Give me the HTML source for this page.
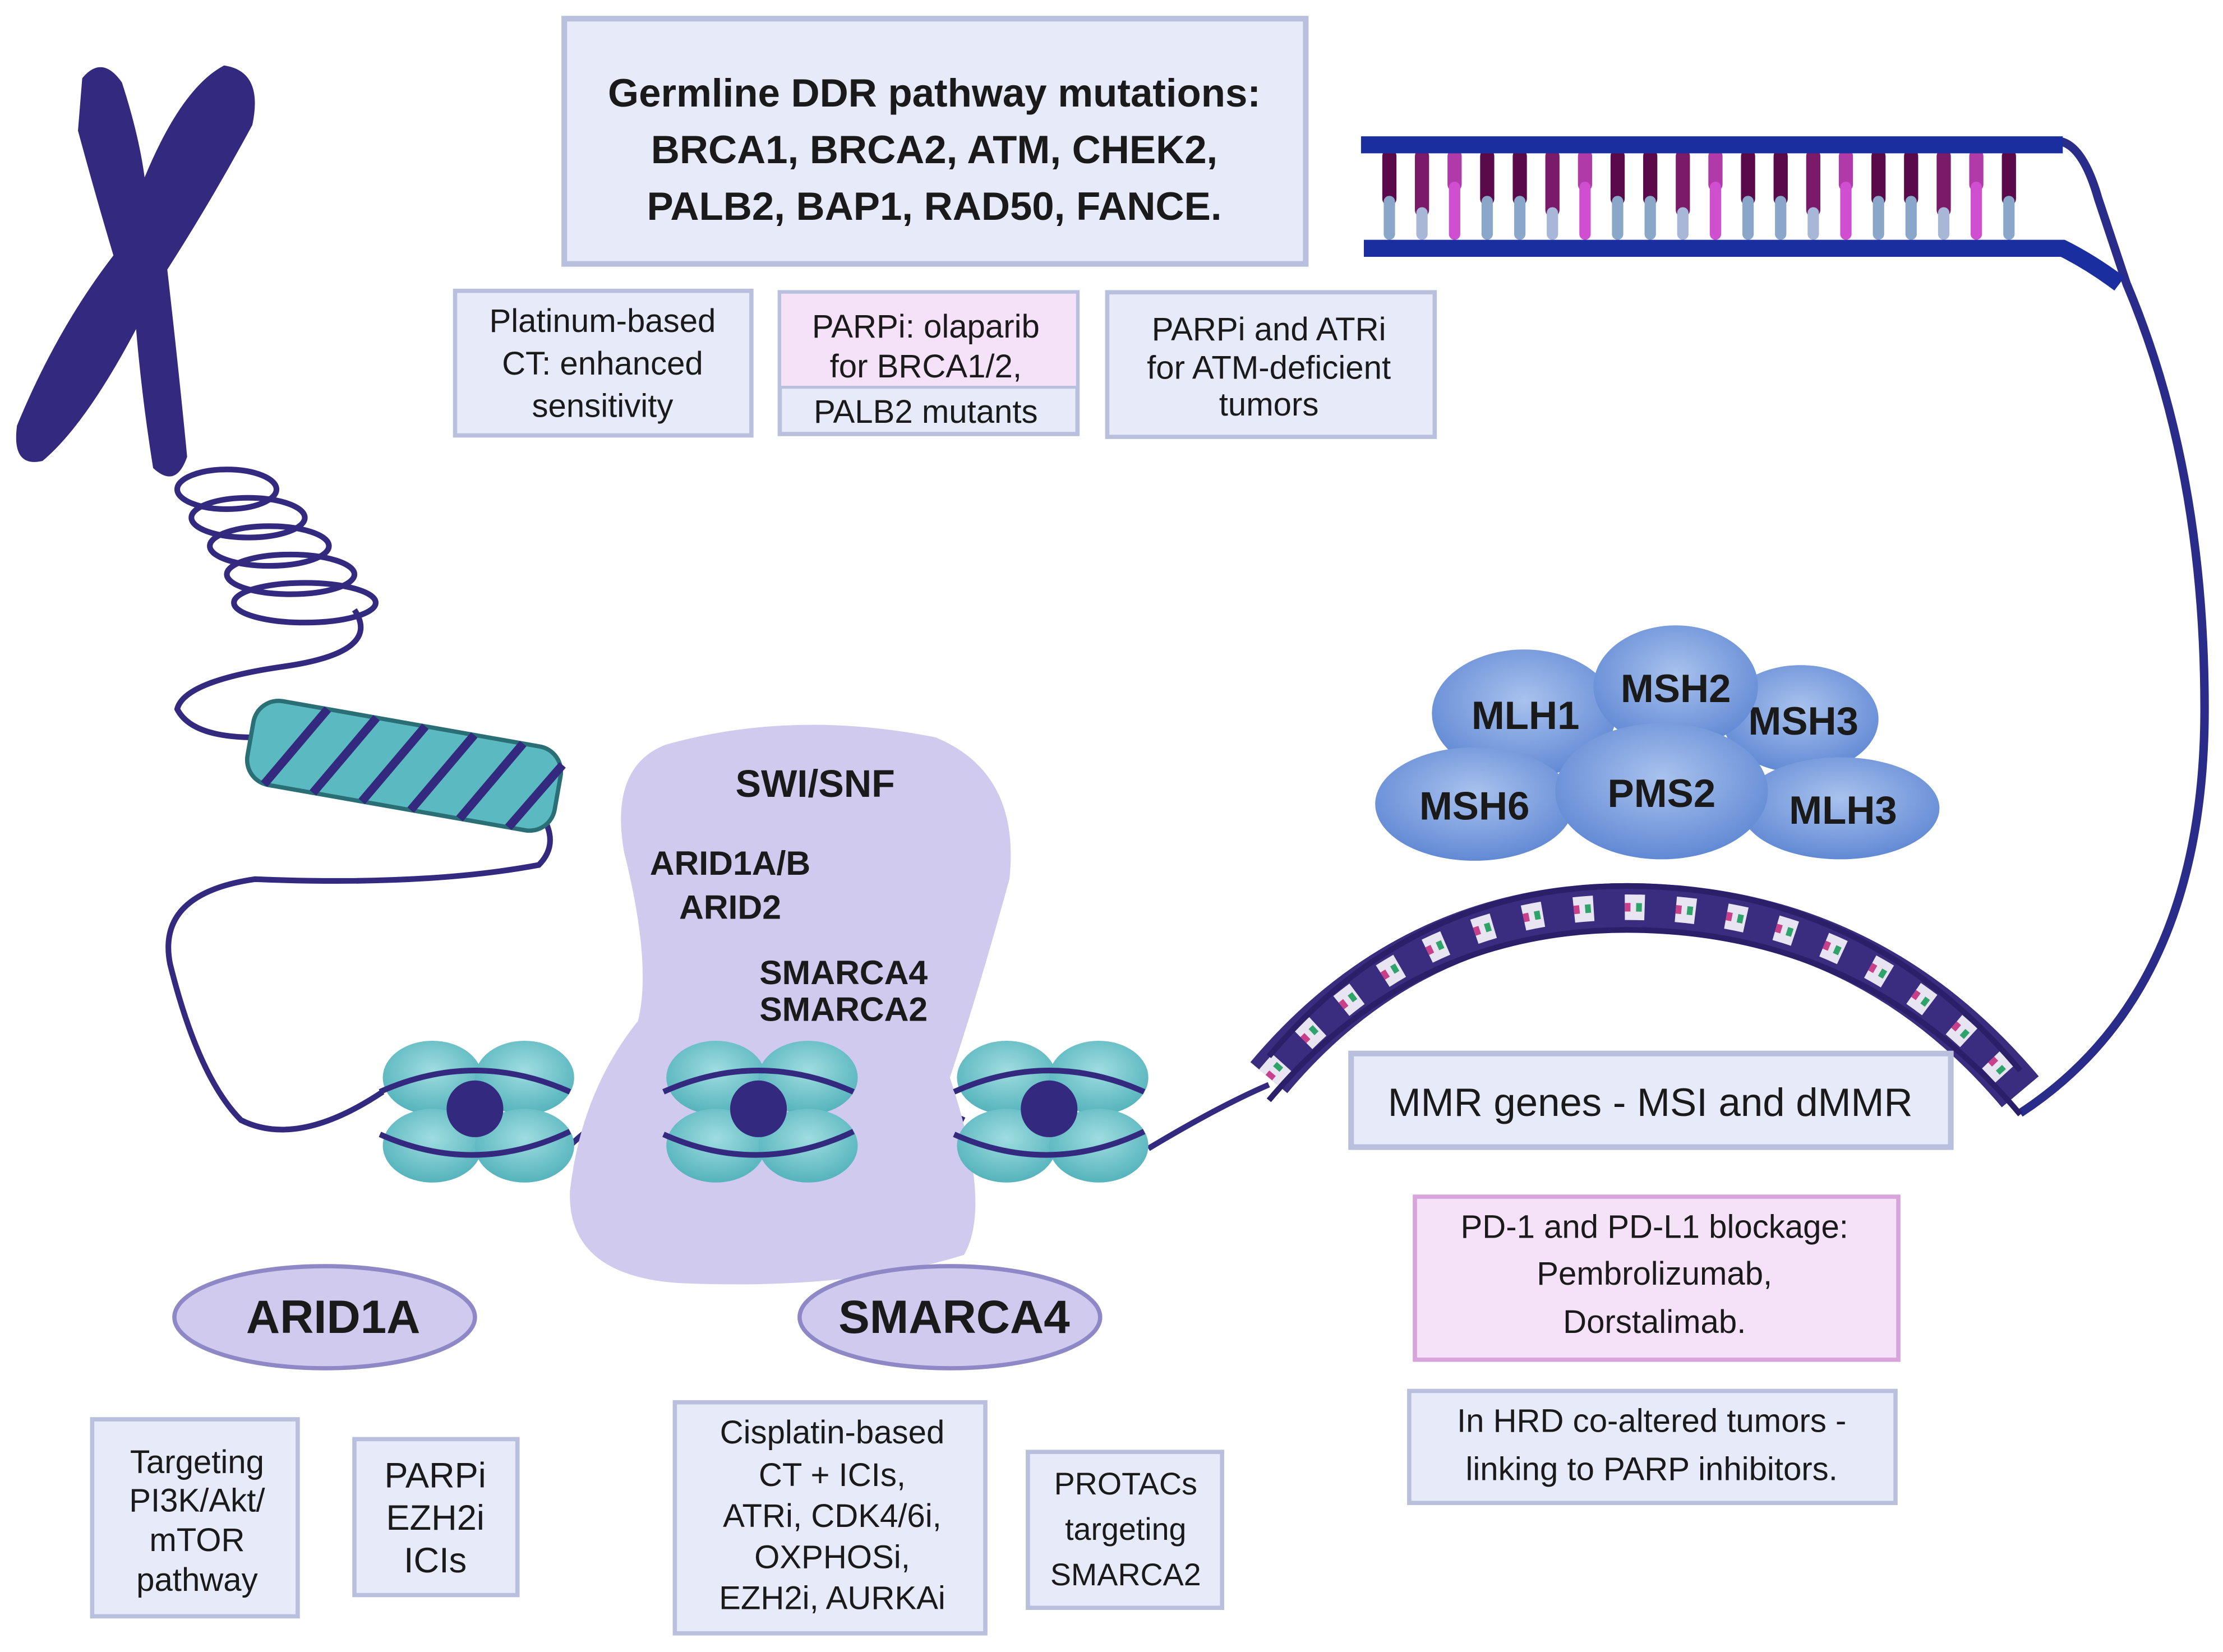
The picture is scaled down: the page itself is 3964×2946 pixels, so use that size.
<!DOCTYPE html>
<html><head><meta charset="utf-8"><style>
html,body{margin:0;padding:0;background:#fff}
svg{display:block}
text{font-family:"Liberation Sans",sans-serif;fill:#1a1a1a;text-anchor:middle}
</style></head><body>
<svg width="3964" height="2946" viewBox="0 0 1568 1165" xmlns="http://www.w3.org/2000/svg">
<defs>
<radialGradient id="bl" cx="50%" cy="40%" r="60%"><stop offset="0" stop-color="#a9c2ee"/><stop offset="1" stop-color="#6189d4"/></radialGradient>
<radialGradient id="tl" cx="50%" cy="40%" r="60%"><stop offset="0" stop-color="#9fdde0"/><stop offset="1" stop-color="#55b3bc"/></radialGradient>
</defs>
<rect x="398" y="13" width="523" height="173" fill="#e7ebf9" stroke="#b9c0dd" stroke-width="4"/>
<text x="659" y="75" font-size="28" font-weight="bold" fill="#222">Germline DDR pathway mutations:</text>
<text x="659" y="115" font-size="28" font-weight="bold">BRCA1, BRCA2, ATM, CHEK2,</text>
<text x="659" y="155" font-size="28" font-weight="bold">PALB2, BAP1, RAD50, FANCE.</text>
<rect x="321" y="205" width="209" height="102" fill="#e7ebf9" stroke="#b9c0dd" stroke-width="3"/>
<text x="425" y="234" font-size="23">Platinum-based</text>
<text x="425" y="264" font-size="23">CT: enhanced</text>
<text x="425" y="294" font-size="23">sensitivity</text>
<rect x="550" y="206" width="210" height="100" fill="#e7ebf9" stroke="#b9c0dd" stroke-width="3"/>
<rect x="551" y="207" width="208" height="66" fill="#f5e1f8"/>
<line x1="550" y1="273" x2="760" y2="273" stroke="#b9c0dd" stroke-width="2"/>
<text x="653" y="238" font-size="23">PARPi: olaparib</text>
<text x="653" y="266" font-size="23">for BRCA1/2,</text>
<text x="653" y="298" font-size="23">PALB2 mutants</text>
<rect x="781" y="206" width="231" height="102" fill="#e7ebf9" stroke="#b9c0dd" stroke-width="3"/>
<text x="895" y="240" font-size="23">PARPi and ATRi</text>
<text x="895" y="267" font-size="23">for ATM-deficient</text>
<text x="895" y="293" font-size="23">tumors</text>
<!-- chromosome -->
<path d="M58 55 Q72 38 86 58 Q98 95 102 125 Q128 62 158 46 Q186 50 178 88 Q150 140 118 190 Q126 260 132 322 Q124 345 108 330 Q100 280 96 232 Q60 300 30 325 Q8 330 12 300 Q40 232 80 180 Q68 140 55 92 Z" fill="#33297f"/>
<g fill="none" stroke="#33297f" stroke-width="4">
<ellipse cx="160" cy="345" rx="35" ry="14"/><ellipse cx="175" cy="365" rx="40" ry="14"/><ellipse cx="190" cy="385" rx="42" ry="14"/><ellipse cx="205" cy="405" rx="45" ry="14"/><ellipse cx="215" cy="425" rx="50" ry="14"/>
<path d="M250 430 Q270 460 200 470 Q130 480 125 500 Q135 520 180 520"/>
<path d="M370 560 Q400 590 380 610 Q300 625 180 620 Q110 630 120 680 Q140 760 170 790 Q210 810 270 770"/>
<path d="M400 810 Q440 770 470 790 M600 800 Q640 770 680 790 M810 810 Q860 780 895 765"/>
</g>
<g transform="rotate(10 285 540)">
<rect x="175" y="510" width="220" height="60" rx="18" fill="#5bb9c1" stroke="#2a6e76" stroke-width="3"/>
<g stroke="#33297f" stroke-width="6" fill="none">
<path d="M190 570 L225 510 M225 570 L260 510 M260 570 L295 510 M295 570 L330 510 M330 570 L365 510 M365 570 L395 520"/></g></g>
<path d="M470 525 Q560 500 660 520 Q720 545 712 620 Q690 700 670 760 Q700 850 680 885 Q600 910 480 905 Q400 900 402 840 Q410 770 450 720 Q460 680 440 600 Q430 540 470 525 Z" fill="#d0caef"/>
<text x="575" y="562" font-size="27" font-weight="bold">SWI/SNF</text>
<text x="515" y="617" font-size="24" font-weight="bold">ARID1A/B</text>
<text x="515" y="648" font-size="24" font-weight="bold">ARID2</text>
<text x="595" y="694" font-size="24" font-weight="bold">SMARCA4</text>
<text x="595" y="720" font-size="24" font-weight="bold">SMARCA2</text>
<g id="nuc">
<ellipse cx="305" cy="760" rx="35" ry="26" fill="url(#tl)"/><ellipse cx="370" cy="760" rx="35" ry="26" fill="url(#tl)"/>
<ellipse cx="305" cy="808" rx="35" ry="26" fill="url(#tl)"/><ellipse cx="370" cy="808" rx="35" ry="26" fill="url(#tl)"/>
<circle cx="335" cy="782" r="20" fill="#33297f"/>
<path d="M268 770 Q335 740 402 770 M268 800 Q335 830 402 798" fill="none" stroke="#33297f" stroke-width="4"/>
</g>
<use href="#nuc" x="200" y="0"/><use href="#nuc" x="405" y="0"/>
<ellipse cx="229" cy="929" rx="106" ry="36" fill="#cfcaee" stroke="#8f88c6" stroke-width="3"/>
<text x="235" y="940" font-size="33" font-weight="bold">ARID1A</text>
<ellipse cx="670" cy="929" rx="106" ry="36" fill="#cfcaee" stroke="#8f88c6" stroke-width="3"/>
<text x="673" y="940" font-size="33" font-weight="bold">SMARCA4</text>
<rect x="65" y="1001" width="145" height="139" fill="#e7ebf9" stroke="#b9c0dd" stroke-width="3"/>
<text x="139" y="1039" font-size="23">Targeting</text><text x="139" y="1066" font-size="23">PI3K/Akt/</text><text x="139" y="1094" font-size="23">mTOR</text><text x="139" y="1122" font-size="23">pathway</text>
<rect x="250" y="1015" width="115" height="110" fill="#e7ebf9" stroke="#b9c0dd" stroke-width="3"/>
<text x="307" y="1049" font-size="25">PARPi</text><text x="307" y="1079" font-size="25">EZH2i</text><text x="307" y="1109" font-size="25">ICIs</text>
<rect x="476" y="989" width="219" height="163" fill="#e7ebf9" stroke="#b9c0dd" stroke-width="3"/>
<text x="587" y="1018" font-size="23">Cisplatin-based</text><text x="587" y="1048" font-size="23">CT + ICIs,</text><text x="587" y="1077" font-size="23">ATRi, CDK4/6i,</text><text x="587" y="1106" font-size="23">OXPHOSi,</text><text x="587" y="1135" font-size="23">EZH2i, AURKAi</text>
<rect x="725" y="1024" width="137" height="110" fill="#e7ebf9" stroke="#b9c0dd" stroke-width="3"/>
<text x="794" y="1054" font-size="22">PROTACs</text><text x="794" y="1086" font-size="22">targeting</text><text x="794" y="1118" font-size="22">SMARCA2</text>
<g stroke-linecap="round">
<g id="bars">
<line x1="980" y1="110" x2="980" y2="140" stroke="#5a0a4a" stroke-width="10"/><line x1="980" y1="142" x2="980" y2="165" stroke="#8aa6c8" stroke-width="8"/>
<line x1="1003" y1="110" x2="1003" y2="148" stroke="#7a1a68" stroke-width="10"/><line x1="1003" y1="150" x2="1003" y2="165" stroke="#a8b6d8" stroke-width="8"/>
<line x1="1026" y1="110" x2="1026" y2="130" stroke="#b03aa8" stroke-width="10"/><line x1="1026" y1="132" x2="1026" y2="165" stroke="#d04ed0" stroke-width="8"/>
<line x1="1049" y1="110" x2="1049" y2="140" stroke="#5a0a4a" stroke-width="10"/><line x1="1049" y1="142" x2="1049" y2="165" stroke="#8aa6c8" stroke-width="8"/>
</g>
<use href="#bars" x="92"/><use href="#bars" x="184"/><use href="#bars" x="276"/><use href="#bars" x="368"/>
</g>
<path d="M962 100 L1455 100 Q1470 105 1480 140 L1500 200 Q1555 330 1555 500 Q1555 700 1425 785" fill="none" stroke="#2a2c8a" stroke-width="6"/>
<path d="M962 175 L1455 175 Q1475 185 1495 200" fill="none" stroke="#1a2ea0" stroke-width="12"/>
<rect x="960" y="96" width="495" height="12" fill="#1a2ea0"/>
<g font-size="28" font-weight="bold">
<ellipse cx="1270" cy="507" rx="55" ry="38" fill="url(#bl)"/><text x="1272" y="518">MSH3</text>
<ellipse cx="1298" cy="570" rx="70" ry="36" fill="url(#bl)"/><text x="1300" y="581">MLH3</text>
<ellipse cx="1075" cy="503" rx="65" ry="45" fill="url(#bl)"/><text x="1076" y="514">MLH1</text>
<ellipse cx="1182" cy="484" rx="58" ry="43" fill="url(#bl)"/><text x="1182" y="495">MSH2</text>
<ellipse cx="1040" cy="567" rx="70" ry="40" fill="url(#bl)"/><text x="1040" y="578">MSH6</text>
<ellipse cx="1172" cy="558" rx="75" ry="48" fill="url(#bl)"/><text x="1172" y="569">PMS2</text>
</g>
<!-- helix -->
<path d="M895 760 Q1000 635 1160 640 Q1320 645 1425 770" fill="none" stroke="#3a2c7e" stroke-width="34"/>
<path d="M895 760 Q1000 635 1160 640 Q1320 645 1425 770" fill="none" stroke="#e8e4f2" stroke-width="18" stroke-dasharray="14 22"/>
<path d="M895 760 Q1000 635 1160 640 Q1320 645 1425 770" fill="none" stroke="#c9408a" stroke-width="6" stroke-dasharray="4 32"/>
<path d="M895 760 Q1000 635 1160 640 Q1320 645 1425 770" fill="none" stroke="#2fa46a" stroke-width="6" stroke-dasharray="4 32" stroke-dashoffset="-8"/>
<path d="M895 745 Q1000 620 1160 625 Q1320 630 1425 755" fill="none" stroke="#2b1f6a" stroke-width="4"/>
<path d="M895 776 Q1000 651 1160 656 Q1320 661 1425 786" fill="none" stroke="#2b1f6a" stroke-width="4"/>
<rect x="953" y="743" width="423" height="66" fill="#e7ebf9" stroke="#b9c0dd" stroke-width="4"/>
<text x="1164" y="787" font-size="28">MMR genes - MSI and dMMR</text>
<rect x="998" y="844" width="341" height="115" fill="#f5e1f8" stroke="#d8a4dc" stroke-width="3"/>
<text x="1167" y="873" font-size="23">PD-1 and PD-L1 blockage:</text><text x="1167" y="906" font-size="23">Pembrolizumab,</text><text x="1167" y="940" font-size="23">Dorstalimab.</text>
<rect x="994" y="981" width="343" height="79" fill="#e7ebf9" stroke="#b9c0dd" stroke-width="3"/>
<text x="1165" y="1010" font-size="23">In HRD co-altered tumors -</text><text x="1165" y="1044" font-size="23">linking to PARP inhibitors.</text>
</svg>
</body></html>
